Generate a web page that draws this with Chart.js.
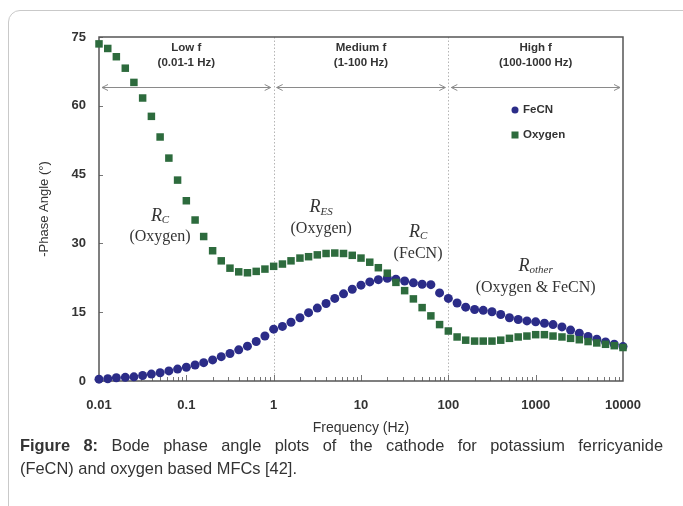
<!DOCTYPE html>
<html>
<head>
<meta charset="utf-8">
<script src="https://cdn.jsdelivr.net/npm/chart.js@4.4.1/dist/chart.umd.min.js"></script>
<style>
body { margin: 0; background: #fff; width: 683px; height: 506px; overflow: hidden; position: relative; font-family: "Liberation Sans", Arial, sans-serif; }
#frame { position: absolute; left: 8px; top: 10px; width: 720px; height: 540px; border: 1px solid #c9c9c9; border-radius: 12px; }
#chart { position: absolute; left: 0; top: 0; }
#caption { position: absolute; left: 20px; top: 434px; width: 643px; font-size: 16.4px; line-height: 23px; color: #333; }
#caption .l1 { display: block; text-align: justify; text-align-last: justify; }
</style>
</head>
<body>
<div id="frame"></div>
<canvas id="chart" width="683" height="506"></canvas>
<div id="caption"><span class="l1"><b>Figure 8:</b> Bode phase angle plots of the cathode for potassium ferricyanide</span>(FeCN) and oxygen based MFCs [42].</div>
<script>
// frequencies (Hz), 10 points per decade
var freq = [
  0.01, 0.0126, 0.0158, 0.02, 0.0251, 0.0316, 0.0398, 0.0501, 0.0631, 0.0794,
  0.1, 0.126, 0.158, 0.2, 0.251, 0.316, 0.398, 0.501, 0.631, 0.794,
  1, 1.26, 1.58, 2, 2.51, 3.16, 3.98, 5.01, 6.31, 7.94,
  10, 12.6, 15.8, 20, 25.1, 31.6, 39.8, 50.1, 63.1, 79.4,
  100, 126, 158, 200, 251, 316, 398, 501, 631, 794,
  1000, 1260, 1580, 2000, 2510, 3160, 3980, 5010, 6310, 7940,
  10000
];
// -phase angle (deg)
var fecn = [
  0.4, 0.5, 0.7, 0.8, 0.9, 1.2, 1.5, 1.8, 2.2, 2.6,
  3.0, 3.5, 4.0, 4.6, 5.3, 6.0, 6.8, 7.6, 8.6, 9.8,
  11.3, 11.9, 12.8, 13.8, 14.9, 15.9, 16.9, 18.0, 19.0, 20.0,
  20.9, 21.6, 22.1, 22.4, 22.2, 21.8, 21.4, 21.1, 21.0, 19.2,
  18.0, 17.0, 16.1, 15.6, 15.4, 15.1, 14.5, 13.8, 13.4, 13.1,
  12.9, 12.6, 12.3, 11.8, 11.1, 10.4, 9.7, 9.1, 8.5, 8.0,
  7.5
];
var oxygen = [
  73.5, 72.5, 70.7, 68.2, 65.1, 61.7, 57.7, 53.2, 48.6, 43.8,
  39.3, 35.1, 31.5, 28.4, 26.2, 24.6, 23.8, 23.6, 23.9, 24.4,
  25.0, 25.5, 26.2, 26.8, 27.1, 27.5, 27.8, 27.9, 27.8, 27.4,
  26.8, 25.9, 24.7, 23.5, 21.5, 19.7, 17.9, 16.0, 14.2, 12.3,
  10.9, 9.6, 8.9, 8.7, 8.7, 8.7, 8.9, 9.3, 9.6, 9.8,
  10.1, 10.1, 9.8, 9.6, 9.3, 9.0, 8.6, 8.3, 8.0, 7.7,
  7.3
];
var xTicks = [0.01, 0.1, 1, 10, 100, 1000, 10000];
var xTickLabels = ['0.01', '0.1', '1', '10', '100', '1000', '10000'];
var yTicks = [0, 15, 30, 45, 60, 75];
var bands = [[0.01, 1], [1, 100], [100, 10000]];
var bandLabels = [['Low f', '(0.01-1 Hz)'], ['Medium f', '(1-100 Hz)'], ['High f', '(100-1000 Hz)']];

var blue = '#2b2c88';
var green = '#2d6b3d';

function pts(vals) {
  var out = [];
  for (var i = 0; i < freq.length; i++) out.push({ x: freq[i], y: vals[i] });
  return out;
}

// R labels: x freq, y value of the R line, sub text, note below
var notes = [
  { x: 0.05, y: 36, sub: 'C', note: '(Oxygen)' },
  { x: 3.5, y: 37.8, sub: 'ES', note: '(Oxygen)' },
  { x: 45, y: 32.4, sub: 'C', note: '(FeCN)' },
  { x: 1000, y: 25, sub: 'other', note: '(Oxygen & FeCN)' }
];

var decor = {
  id: 'decor',
  beforeDatasetsDraw: function (chart) {
    var ctx = chart.ctx, a = chart.chartArea;
    var xs = chart.scales.x, ys = chart.scales.y;
    ctx.save();
    // dotted separators
    ctx.strokeStyle = '#b5b5b5';
    ctx.lineWidth = 1;
    ctx.setLineDash([1.5, 2]);
    [1, 100].forEach(function (v) {
      var px = Math.round(xs.getPixelForValue(v)) + 0.5;
      ctx.beginPath(); ctx.moveTo(px, a.top); ctx.lineTo(px, a.bottom); ctx.stroke();
    });
    ctx.setLineDash([]);
    // minor ticks on x
    ctx.strokeStyle = '#777';
    for (var d = 0.01; d < 10000; d *= 10) {
      for (var m = 1; m <= 9; m++) {
        var px = Math.round(xs.getPixelForValue(d * m)) + 0.5;
        ctx.beginPath(); ctx.moveTo(px, a.bottom); ctx.lineTo(px, a.bottom - (m === 1 ? 6 : 4)); ctx.stroke();
      }
    }
    yTicks.forEach(function (v) {
      var py = Math.round(ys.getPixelForValue(v)) + 0.5;
      ctx.beginPath(); ctx.moveTo(a.left, py); ctx.lineTo(a.left + 4, py); ctx.stroke();
    });
    // arrows
    var ay = Math.round(ys.getPixelForValue(64)) + 0.5;
    ctx.strokeStyle = '#8a8a8a';
    bands.forEach(function (b) {
      var x1 = xs.getPixelForValue(b[0]) + 3, x2 = xs.getPixelForValue(b[1]) - 3;
      ctx.beginPath(); ctx.moveTo(x1, ay); ctx.lineTo(x2, ay); ctx.stroke();
      ctx.beginPath(); ctx.moveTo(x1 + 6, ay - 3); ctx.lineTo(x1, ay); ctx.lineTo(x1 + 6, ay + 3); ctx.stroke();
      ctx.beginPath(); ctx.moveTo(x2 - 6, ay - 3); ctx.lineTo(x2, ay); ctx.lineTo(x2 - 6, ay + 3); ctx.stroke();
    });
    // band labels
    ctx.fillStyle = '#333';
    ctx.font = 'bold 11.5px "Liberation Sans", Arial, sans-serif';
    ctx.textAlign = 'center';
    ctx.textBaseline = 'middle';
    bands.forEach(function (b, i) {
      var cx = xs.getPixelForValue(Math.sqrt(b[0] * b[1]));
      ctx.fillText(bandLabels[i][0], cx, a.top + 11);
      ctx.fillText(bandLabels[i][1], cx, a.top + 26);
    });
    // frame
    ctx.strokeStyle = '#555';
    ctx.lineWidth = 1.5;
    ctx.strokeRect(a.left, a.top, a.right - a.left, a.bottom - a.top);
    // legend
    var lx = a.left + 416, ly = a.top + 73;
    ctx.fillStyle = blue;
    ctx.beginPath(); ctx.arc(lx, ly, 3.5, 0, Math.PI * 2); ctx.fill();
    ctx.fillStyle = green;
    ctx.fillRect(lx - 3.5, ly + 21.5, 7, 7);
    ctx.fillStyle = '#333';
    ctx.textAlign = 'left';
    ctx.font = 'bold 11.5px "Liberation Sans", Arial, sans-serif';
    ctx.fillText('FeCN', lx + 8, ly);
    ctx.fillText('Oxygen', lx + 8, ly + 25);
    // R notes
    notes.forEach(function (n) {
      var cx = xs.getPixelForValue(n.x), cy = ys.getPixelForValue(n.y);
      ctx.font = 'italic 18px "Liberation Serif", "Times New Roman", serif';
      var w1 = ctx.measureText('R').width;
      ctx.font = 'italic 11px "Liberation Serif", "Times New Roman", serif';
      var w2 = ctx.measureText(n.sub).width;
      var x0 = cx - (w1 + w2) / 2;
      ctx.textAlign = 'left';
      ctx.font = 'italic 18px "Liberation Serif", "Times New Roman", serif';
      ctx.fillText('R', x0, cy);
      ctx.font = 'italic 11px "Liberation Serif", "Times New Roman", serif';
      ctx.fillText(n.sub, x0 + w1, cy + 4);
      ctx.textAlign = 'center';
      ctx.font = '16px "Liberation Serif", "Times New Roman", serif';
      ctx.fillText(n.note, cx, cy + 21);
    });
    ctx.restore();
  }
};

var ctx = document.getElementById('chart').getContext('2d');
var myChart = new Chart(ctx, {
  type: 'scatter',
  data: {
    datasets: [{
      label: 'Oxygen',
      data: pts(oxygen),
      pointStyle: 'rect',
      pointRadius: 5.3,
      backgroundColor: green,
      borderColor: green,
      borderWidth: 0,
      clip: false
    }, {
      label: 'FeCN',
      data: pts(fecn),
      pointStyle: 'circle',
      pointRadius: 4.5,
      backgroundColor: blue,
      borderColor: blue,
      borderWidth: 0,
      clip: false
    }]
  },
  options: {
    responsive: false,
    animation: false,
    layout: { padding: { left: 37, top: 37, right: 60, bottom: 69 } },
    plugins: { legend: { display: false }, tooltip: { enabled: false } },
    scales: {
      x: {
        type: 'logarithmic',
        min: 0.01,
        max: 10000,
        afterBuildTicks: function (s) { s.ticks = xTicks.map(function (v) { return { value: v }; }); },
        afterFit: function (s) { s.height = 56; },
        grid: { display: false, drawTicks: false },
        border: { display: false },
        ticks: {
          autoSkip: false, maxRotation: 0, padding: 17,
          color: '#333', font: { size: 13, weight: 'bold', family: '"Liberation Sans", Arial, sans-serif' },
          callback: function (v, i) { return xTickLabels[i]; }
        },
        title: { display: true, text: 'Frequency (Hz)', color: '#333', padding: 0,
          font: { size: 14, family: '"Liberation Sans", Arial, sans-serif' } }
      },
      y: {
        min: 0,
        max: 75,
        afterBuildTicks: function (s) { s.ticks = yTicks.map(function (v) { return { value: v }; }); },
        afterFit: function (s) { s.width = 62; },
        grid: { display: false, drawTicks: false },
        border: { display: false },
        ticks: { padding: 13, color: '#333', font: { size: 13, weight: 'bold', family: '"Liberation Sans", Arial, sans-serif' } },
        title: { display: true, text: '-Phase Angle (°)', color: '#333', padding: 0,
          font: { size: 13, family: '"Liberation Sans", Arial, sans-serif' } }
      }
    }
  },
  plugins: [decor]
});
</script>
</body>
</html>
